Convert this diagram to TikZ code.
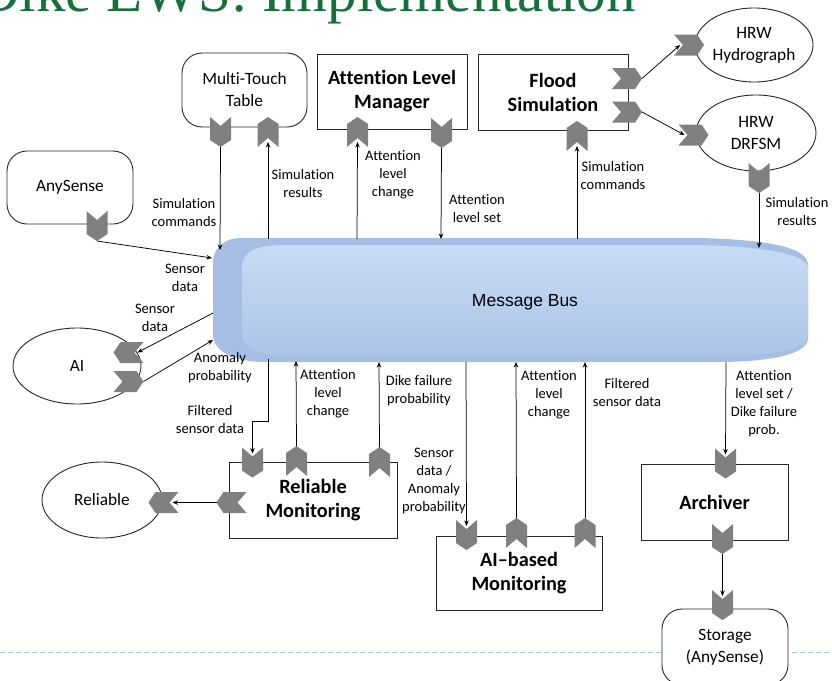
\documentclass[tikz,border=0pt]{standalone}
\usepackage{fontspec}
\setmainfont{Carlito}[Ligatures=NoCommon]
\newfontfamily\titlefont{Liberation Serif}
\newfontfamily\busfont{Liberation Sans}
\usetikzlibrary{shapes.geometric,arrows.meta,calc}
\definecolor{portgray}{RGB}{128,128,128}
\definecolor{titlegreen}{RGB}{22,112,58}
\definecolor{busdark}{RGB}{166,190,227}
\definecolor{buslighttop}{RGB}{199,220,243}
\definecolor{buslightbot}{RGB}{172,196,232}
\definecolor{dashblue}{RGB}{160,196,230}
\tikzset{
  lbl/.style={font=\fontsize{14.5}{18}\selectfont, align=center, inner sep=0pt},
  rbox/.style={draw=black!85, line width=0.9pt, rounded corners=20pt, fill=white, align=center,
    font=\fontsize{17.3}{22}\selectfont, inner sep=0pt},
  sbox/.style={draw=black!85, line width=0.9pt, fill=white, align=center,
    font=\bfseries\fontsize{20.3}{24}\selectfont, inner sep=0pt},
  ell/.style={draw=black!85, line width=0.9pt, ellipse, fill=white, align=center,
    font=\fontsize{17.3}{22}\selectfont, inner sep=0pt},
  arr/.style={-{Stealth[length=5.5pt,width=4.5pt]}, line width=0.75pt, black},
  pdown/.pic={\fill[portgray] (-10.5,-15) -- (0,-6) -- (10.5,-15) -- (10.5,8) -- (0,15) -- (-10.5,8) -- cycle;
    \coordinate (-in) at (0,-9); \coordinate (-out) at (0,15);},
  pup/.pic={\fill[portgray] (-10.5,15) -- (0,6) -- (10.5,15) -- (10.5,-8) -- (0,-15) -- (-10.5,-8) -- cycle;
    \coordinate (-in) at (0,10); \coordinate (-out) at (0,-15);},
  pright/.pic={\fill[portgray] (-15,-10.5) -- (-6,0) -- (-15,10.5) -- (8,10.5) -- (15,0) -- (8,-10.5) -- cycle;
    \coordinate (-in) at (-9,0); \coordinate (-out) at (15,0);},
  pleft/.pic={\fill[portgray] (15,-10.5) -- (6,0) -- (15,10.5) -- (-8,10.5) -- (-15,0) -- (-8,-10.5) -- cycle;
    \coordinate (-in) at (9,0); \coordinate (-out) at (-15,0);},
}
\begin{document}
\begin{tikzpicture}[x=1pt,y=-1pt]
\useasboundingbox (0,0) rectangle (832,680);
\clip (0,0) rectangle (832,680);
% title
\node[anchor=base east, inner sep=0pt, text=titlegreen, font=\titlefont\fontsize{59}{59}\selectfont] (title) at (636,11) {Dike EWS: Implementation};
% dashed rule
\draw[dashblue, line width=1pt, dash pattern=on 5pt off 3pt] (0,652) -- (832,652);
% message bus
\fill[busdark] (240,238) -- (700,238) .. controls (780,240) and (808,250) .. (808,265) -- (808,338)
  .. controls (808,352) and (780,362) .. (715,362) -- (265,362) .. controls (232,362) and (213,350) .. (213,335)
  -- (213,262) .. controls (213,248) and (225,238) .. (240,238) -- cycle;
\shade[top color=buslighttop, bottom color=buslightbot] (242,268) .. controls (242,252) and (255,245) .. (285,245)
  -- (700,245) .. controls (772,247) and (808,256) .. (808,268) -- (808,336)
  .. controls (808,348) and (780,356) .. (715,356) -- (290,356) .. controls (256,356) and (242,348) .. (242,334) -- cycle;
\node[font=\busfont\fontsize{17.5}{20}\selectfont, inner sep=0pt] (bus) at (525,302) {Message Bus};
% bus attachment points
\coordinate (bMT1) at (220,250); \coordinate (bMT2) at (268,239); \coordinate (bAL1) at (357,239);
\coordinate (bAL2) at (441,239); \coordinate (bFS) at (577,239); \coordinate (bDR) at (759,248);
\coordinate (bAS) at (212,258); \coordinate (bAIi) at (213,313); \coordinate (bAIo) at (213,340);
\coordinate (bR1) at (268,359); \coordinate (bR2) at (296,361); \coordinate (bR3) at (379,362);
\coordinate (bA1) at (466,362); \coordinate (bA2) at (516,362); \coordinate (bA3) at (585,362);
\coordinate (bAR) at (726,362);
% boxes
\node[rbox, minimum width=125pt, minimum height=74pt] (mt) at (244.5,90) {Multi-Touch\\Table};
\node[rbox, minimum width=126pt, minimum height=73pt] (as) at (70,187.5) {AnySense};
\node[sbox, minimum width=150pt, minimum height=75pt] (alm) at (392,91.5) {Attention Level\\Manager};
\node[sbox, minimum width=150pt, minimum height=76pt] (fs) at (553,92) {Flood\\Simulation};
\node[ell, minimum width=118pt, minimum height=74pt] (hy) at (754,45) {HRW\\Hydrograph};
\node[ell, minimum width=120pt, minimum height=76pt] (dr) at (756,133) {HRW\\DRFSM};
\node[ell, minimum width=128pt, minimum height=76pt] (ai) at (77,366) {AI};
\node[ell, minimum width=120pt, minimum height=76pt] (rel) at (102,500) {Reliable};
\node[sbox, minimum width=168pt, minimum height=76pt] (rm) at (313,500) {Reliable\\Monitoring};
\node[sbox, minimum width=166pt, minimum height=74pt] (aim) at (519,573) {AI–based\\Monitoring};
\node[sbox, minimum width=147pt, minimum height=76pt] (ar) at (714.5,502) {Archiver};
\node[rbox, minimum width=126pt, minimum height=76pt] (st) at (725,647) {Storage\\(AnySense)};
% ports
\pic (mtO) at (220.5,132) {pdown};
\pic (mtI) at (268,132) {pup};
\pic (asO) at (97,226) {pdown};
\pic (alI) at (357.5,132) {pup};
\pic (alO) at (441.5,133) {pdown};
\pic (fsI) at (577,136) {pup};
\pic (fsO1) at (627,78.5) {pright};
\pic (fsO2) at (627,112) {pright};
\pic (hyI) at (689,45) {pright};
\pic (drI) at (693.5,135) {pright};
\pic (drO) at (759,178) {pdown};
\pic (aiI) at (128.5,352.5) {pleft};
\pic (aiO) at (128.5,381.5) {pright};
\pic (rmI) at (252.5,462.5) {pdown};
\pic (rmA) at (296.5,461) {pup};
\pic (rmD) at (379.5,462) {pup};
\pic (rmO) at (231.5,502.5) {pleft};
\pic (relI) at (163.5,502.5) {pleft};
\pic (aimI) at (466.5,535) {pdown};
\pic (aimA) at (516.5,533) {pup};
\pic (aimF) at (585,533) {pup};
\pic (arI) at (725.5,463.5) {pdown};
\pic (arO) at (722.5,539) {pdown};
\pic (stI) at (722.5,605) {pdown};
% connectors
\draw[arr] (mtO-out) -- (bMT1);
\draw[arr] (bMT2) -- (mtI-in);
\draw[arr] (bAL1) -- (alI-in);
\draw[arr] (alO-out) -- (bAL2);
\draw[arr] (bFS) -- (fsI-in);
\draw[arr] (fsO1-out) -- (hyI-in);
\draw[arr] (fsO2-out) -- (drI-in);
\draw[arr] (drO-out) -- (bDR);
\draw[arr] (asO-out) -- (bAS);
\draw[arr] (bAIi) -- (aiI-in);
\draw[arr] (aiO-out) -- (bAIo);
\draw[arr] (bR1) -- ++(0,62) -| (rmI-in);
\draw[arr] (rmA-out) -- (bR2);
\draw[arr] (rmD-out) -- (bR3);
\draw[arr] (rmO-out) -- (relI-in);
\draw[arr] (bA1) -- (aimI-in);
\draw[arr] (aimA-out) -- (bA2);
\draw[arr] (aimF-out) -- (bA3);
\draw[arr] (bAR) -- (arI-in);
\draw[arr] (arO-out) -- (stI-in);
% labels
\node[lbl] (l1) at (184,213) {Simulation\\commands};
\node[lbl] (l2) at (303,184) {Simulation\\results};
\node[lbl] (l3) at (393,175) {Attention\\level\\change};
\node[lbl] (l4) at (477,209) {Attention\\level set};
\node[lbl] (l5) at (613,176) {Simulation\\commands};
\node[lbl] (l6) at (797,212) {Simulation\\results};
\node[lbl] (l7) at (185,278) {Sensor\\data};
\node[lbl] (l8) at (155,318) {Sensor\\data};
\node[lbl] (l9) at (220,368) {Anomaly\\probability};
\node[lbl] (l10) at (210,420) {Filtered\\sensor data};
\node[lbl] (l11) at (328,394) {Attention\\level\\change};
\node[lbl] (l12) at (419,391) {Dike failure\\probability};
\node[lbl] (l13) at (434,481) {Sensor\\data /\\Anomaly\\probability};
\node[lbl] (l14) at (549,395) {Attention\\level\\change};
\node[lbl] (l15) at (627,393) {Filtered\\sensor data};
\node[lbl] (l16) at (764,404) {Attention\\level set /\\Dike failure\\prob.};
\end{tikzpicture}
\end{document}
